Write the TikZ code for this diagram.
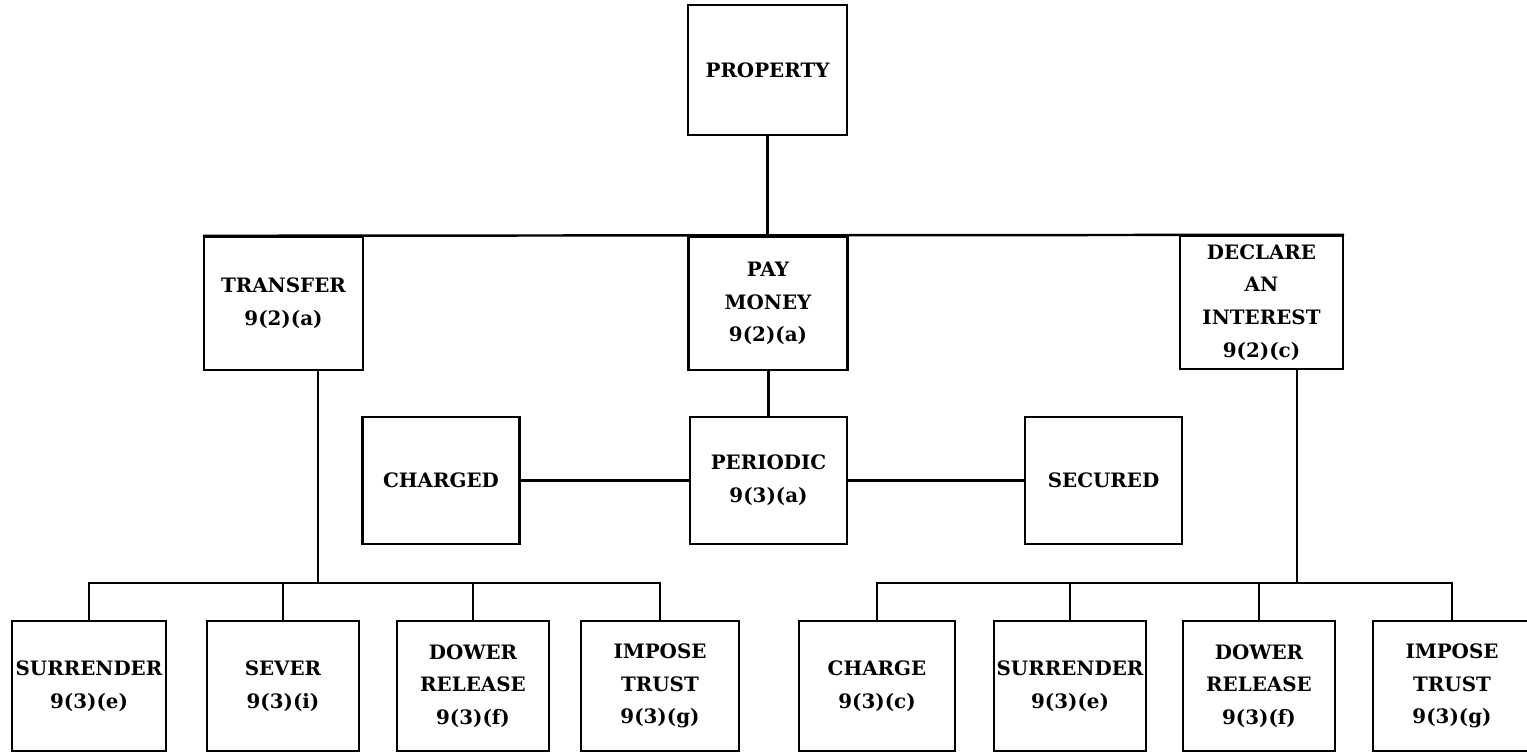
\documentclass[tikz,border=0pt]{standalone}
\usepackage{fontspec}
\setmainfont{DejaVu Serif}
\usepackage{tikz}
\newcommand{\boxfont}{\fontsize{11.3}{18.6}\selectfont\bfseries}
\tikzstyle{box}=[rectangle, draw=black, line width=1.4pt, minimum width=3.12cm, minimum height=2.6cm, inner sep=1pt, align=center, font=\boxfont]
\tikzstyle{top}=[box, minimum width=3.18cm, minimum height=2.66cm]
\tikzstyle{mid}=[box, minimum width=3.14cm, minimum height=2.54cm]
\tikzstyle{l1}=[line width=1.4pt]

\begin{document}
\begin{tikzpicture}[x=0.02cm, y=-0.02cm]
    \useasboundingbox (0,0) rectangle (1527,752);

    \node (prop) [box, minimum width=3.18cm] at (767.5,70) {PROPERTY};

    \node (tr) [top] at (283.5,303.5) {TRANSFER\\9(2)(a)};
    \node (pay) [top] at (768,303.5) {PAY\\MONEY\\9(2)(a)};
    \node (dec) [top, minimum width=3.26cm] at (1261.5,302.5) {DECLARE\\AN\\INTEREST\\9(2)(c)};
    \draw[l1] (prop.south) -- (prop.south |- pay.north);
    \draw[l1] (tr.north west) -- (dec.north east);

    \node (chd) [mid] at (441,480.5) {CHARGED};
    \node (per) [mid] at (768.5,480.5) {PERIODIC\\9(3)(a)};
    \node (sec) [mid] at (1103.5,480.5) {SECURED};
    \draw[l1] (pay.south -| per.north) -- (per.north);
    \draw[l1] (chd) -- (per) -- (sec);

    % transfer branch
    \coordinate (tbus) at (318,583);
    \node (t1) [box, minimum width=3.08cm] at (89,686) {SURRENDER\\9(3)(e)};
    \node (t2) [box, minimum width=3.04cm] at (283,686) {SEVER\\9(3)(i)};
    \node (t3) [box, minimum width=3.04cm] at (473,686) {DOWER\\RELEASE\\9(3)(f)};
    \node (t4) [box, minimum width=3.16cm] at (660,686) {IMPOSE\\TRUST\\9(3)(g)};
    \draw[l1] (tr.south -| tbus) -- (tbus);
    \draw[l1] (t1.north) -- (t1.north |- tbus) -- (t4.north |- tbus) -- (t4.north);
    \foreach \n in {t2,t3} \draw[l1] (\n.north) -- (\n.north |- tbus);

    % declare branch
    \coordinate (dbus) at (1297,583);
    \node (d1) [box] at (877,686) {CHARGE\\9(3)(c)};
    \node (d2) [box, minimum width=3.04cm] at (1070,686) {SURRENDER\\9(3)(e)};
    \node (d3) [box, minimum width=3.04cm] at (1259,686) {DOWER\\RELEASE\\9(3)(f)};
    \node (d4) [box, minimum width=3.16cm] at (1452,686) {IMPOSE\\TRUST\\9(3)(g)};
    \draw[l1] (dec.south -| dbus) -- (dbus);
    \draw[l1] (d1.north) -- (d1.north |- dbus) -- (d4.north |- dbus) -- (d4.north);
    \foreach \n in {d2,d3} \draw[l1] (\n.north) -- (\n.north |- dbus);
\end{tikzpicture}
\end{document}
